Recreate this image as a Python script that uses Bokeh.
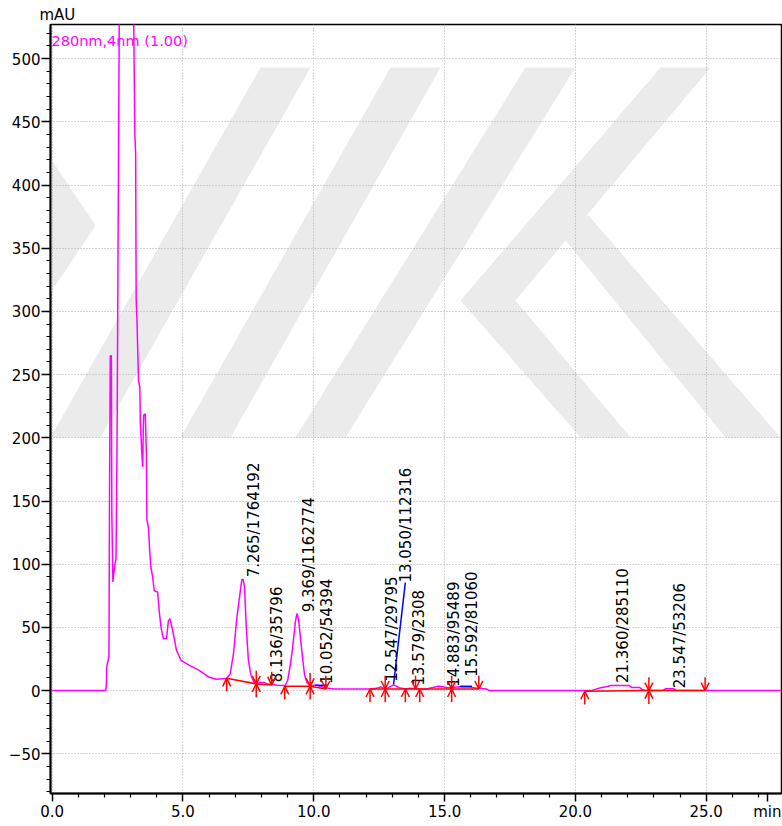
import numpy as np
from bokeh.plotting import figure
from bokeh.models import (ColumnDataSource, Range1d, SingleIntervalTicker, FixedTicker,
                          NumeralTickFormatter, Label, Arrow, OpenHead, PolyAnnotation, Title)
from bokeh.core.properties import value
from bokeh.embed import file_html
from bokeh.resources import INLINE

# ---- chromatogram trace (280nm, 4nm) ----
time_min = [0.0, 2.05, 2.07, 2.09, 2.13, 2.17, 2.19, 2.22, 2.26, 2.28, 2.32, 2.35, 2.40, 2.44,
            2.48, 2.53, 2.58, 2.75, 2.95, 3.08, 3.12, 3.16, 3.19, 3.21, 3.24, 3.30, 3.35, 3.37,
            3.42, 3.46, 3.48, 3.50, 3.56, 3.60, 3.62, 3.68, 3.72, 3.77, 3.84, 3.90, 4.03, 4.09,
            4.16, 4.25, 4.37, 4.44, 4.50, 4.59, 4.66, 4.75, 4.92, 5.25, 5.62, 6.00, 6.26, 6.65,
            6.80, 6.93, 7.06, 7.18, 7.25, 7.30, 7.35, 7.42, 7.50, 7.60, 7.72, 7.85, 7.95, 8.10,
            8.20, 8.40, 8.60, 8.90, 9.00, 9.10, 9.18, 9.30, 9.36, 9.42, 9.50, 9.57, 9.65, 9.75,
            9.85, 10.00, 10.10, 10.30, 10.50, 10.80, 12.20, 12.45, 12.55, 12.65, 12.80, 12.95,
            13.05, 13.15, 13.30, 13.50, 13.70, 13.90, 14.30, 14.55, 14.75, 14.90, 15.10, 15.30,
            15.55, 15.90, 16.20, 16.60, 16.70, 20.60, 20.75, 21.00, 21.20, 21.35, 22.05, 22.15,
            22.45, 22.55, 22.70, 23.35, 23.45, 23.75, 23.85, 27.88]
signal_mau = [0.0, 0.0, 5.0, 20.0, 23.0, 28.0, 150.0, 265.0, 265.0, 140.0, 86.0, 92.0, 100.0, 104.0,
              200.0, 400.0, 600.0, 900.0, 850.0, 600.0, 520.0, 440.0, 425.0, 310.0, 293.0, 245.0, 240.0, 212.0,
              190.0, 177.0, 205.0, 218.0, 219.0, 188.0, 135.0, 129.0, 113.0, 98.0, 90.0, 79.0, 78.0, 63.0,
              50.0, 41.0, 41.0, 55.0, 57.0, 49.0, 42.0, 32.0, 24.0, 20.0, 16.0, 10.5, 9.0, 9.5,
              13.0, 29.0, 58.0, 77.0, 88.0, 88.0, 82.0, 50.0, 24.0, 12.0, 6.5, 5.5, 6.5, 6.5,
              5.5, 5.0, 4.2, 4.0, 8.0, 20.0, 32.0, 55.0, 61.0, 56.0, 40.0, 26.0, 12.0, 6.0,
              4.0, 4.2, 4.5, 3.0, 2.0, 1.3, 1.3, 2.0, 3.0, 2.0, 1.5, 3.5,
              4.5, 3.5, 2.0, 1.3, 1.8, 1.5, 1.3, 2.5, 3.5, 3.2, 2.3, 2.5,
              3.0, 2.8, 2.0, 1.3, 0.0, 0.0, 1.0, 2.5, 3.0, 4.0, 4.0, 2.5,
              2.5, 1.0, 0.0, 0.0, 1.5, 1.5, 0.0, 0.0]

# ---- integrated peaks: retention time / area ----
peak_rt = [7.265, 8.136, 9.369, 10.052, 12.547, 13.050, 13.579, 14.883, 15.592, 21.360, 23.547]
peak_area = [1764192, 35796, 1162774, 54394, 29795, 112316, 2308, 95489, 81060, 285110, 53206]
label_y = [89.6, 6.6, 62.0, 5.3, 7.0, 85.5, 4.0, 3.0, 11.0, 6.0, 1.8]

# peak start (up arrows) and peak end (down arrows)
start_t = [6.67, 7.80, 8.89, 9.86, 12.15, 12.73, 13.50, 14.05, 15.27, 20.36, 22.81]
start_y = [9.7, 5.3, 3.4, 3.4, 1.3, 1.3, 1.3, 1.3, 1.3, -0.5, 0.0]
end_t = [7.80, 8.39, 9.86, 10.46, 12.73, 13.89, 15.27, 16.31, 22.81, 24.96]
end_y = [5.3, 4.5, 3.4, 1.3, 1.3, 1.3, 1.3, 1.3, 0.0, 0.0]

# integration baselines (red)
baseline_t = [6.67, 7.80, 8.39, np.nan, 8.89, 9.86, 10.46, np.nan,
              12.15, 12.73, 13.50, 13.89, 14.05, 15.27, 16.31, np.nan, 20.36, 22.81, 24.96]
baseline_y = [9.7, 5.3, 4.5, np.nan, 3.4, 3.4, 1.3, np.nan,
              1.3, 1.3, 1.3, 1.3, 1.3, 1.3, 1.3, np.nan, -0.5, 0.0, 0.0]

# label leader lines (blue)
leader_x0 = [10.052, 13.050, 15.592]
leader_y0 = [4.2, 5.0, 3.4]
leader_x1 = [10.51, 13.50, 16.05]
leader_y1 = [4.2, 85.5, 3.4]

# axis ticks
x_major = [0, 5, 10, 15, 20, 25]
x_minor = [v for v in range(0, 28) if v % 5 != 0]
x_unit_pos = 27.34
x_unit_text = "min"

FONT = "DejaVu Sans"

p = figure(width=782, height=824, x_range=Range1d(-0.065, 27.88), y_range=Range1d(-81.4, 527.0),
           output_backend="svg", toolbar_location=None, title=None,
           min_border_left=50, min_border_right=1, min_border_top=24, min_border_bottom=31)

p.background_fill_color = "white"
p.border_fill_color = "white"
p.outline_line_color = "black"
p.outline_line_width = 1.5

# watermark (light grey, behind everything)
wm_shapes = [
    [(0, 83), (95, 225), (0, 367), (0, 300), (50, 225), (0, 150)],
    [(260, 67), (310, 67), (100, 437), (50, 437)],
    [(390, 67), (440, 67), (230, 437), (180, 437)],
    [(525, 67), (575, 67), (345, 437), (295, 437)],
    [(660, 67), (710, 67), (515, 300), (630, 437), (580, 437), (460, 300)],
    [(545, 215), (588, 215), (780, 437), (725, 437)],
]
for shp in wm_shapes:
    p.add_layout(PolyAnnotation(xs=[a for a, b in shp], ys=[b for a, b in shp],
                                xs_units="canvas", ys_units="canvas",
                                fill_color="#ebebeb", fill_alpha=1.0, line_color=None,
                                level="image"))

# axes
for ax in (p.xaxis[0], p.yaxis[0]):
    ax.axis_line_color = "black"
    ax.axis_line_width = 2
    ax.major_tick_line_color = "black"
    ax.minor_tick_line_color = "black"
    ax.major_tick_line_width = 1.5
    ax.minor_tick_line_width = 1.2
    ax.major_tick_in = 0
    ax.minor_tick_in = 0
    ax.major_label_text_font = FONT
    ax.major_label_text_font_size = "15px"
    ax.major_label_text_color = "black"

p.xaxis.ticker = FixedTicker(ticks=x_major + [x_unit_pos], minor_ticks=x_minor)
p.xaxis.formatter = NumeralTickFormatter(format="0.0")
p.xaxis.major_label_overrides = {x_unit_pos: x_unit_text}
p.xaxis.major_tick_out = 8
p.xaxis.minor_tick_out = 4
p.xaxis.major_label_standoff = 1

p.yaxis.ticker = SingleIntervalTicker(interval=50, num_minor_ticks=5)
p.yaxis.major_tick_out = 9
p.yaxis.minor_tick_out = 4
p.yaxis.major_label_standoff = 1

p.xgrid[0].ticker = SingleIntervalTicker(interval=5)
p.grid.grid_line_color = "#a8a8a8"
p.grid.grid_line_dash = "1 2"
p.grid.grid_line_width = 1

# trace
p.line(time_min, signal_mau, line_color="#ff00ff", line_width=1.5)

# baselines
p.line(baseline_t, baseline_y, line_color="red", line_width=1.5)

# leaders
p.segment(x0=leader_x0, y0=leader_y0, x1=leader_x1, y1=leader_y1, line_color="blue", line_width=1.5)

# arrows
arrow_len = 10.5
up_src = ColumnDataSource(dict(t=start_t, y=start_y, y0=[v - arrow_len for v in start_y]))
dn_src = ColumnDataSource(dict(t=end_t, y=end_y, y0=[v + arrow_len for v in end_y]))
for src in (up_src, dn_src):
    p.add_layout(Arrow(end=OpenHead(size=8, line_color="red", line_width=1.5),
                       x_start="t", y_start="y0", x_end="t", y_end="y", source=src,
                       line_color="red", line_width=1.5))

# peak labels
labels = [f"{rt:.3f}/{a}" for rt, a in zip(peak_rt, peak_area)]
p.text(x=peak_rt, y=label_y, text=labels, angle=np.pi / 2, x_offset=12,
       text_align="left", text_baseline="middle", text_font=value(FONT),
       text_font_size="15px", text_color="black")

# texts
p.add_layout(Title(text="mAU", align="left", offset=-11, standoff=1,
                   text_font=FONT, text_font_size="15px", text_font_style="normal",
                   text_color="black"), "above")
p.add_layout(Label(x=51, y=40, x_units="canvas", y_units="canvas", text="280nm,4nm (1.00)",
                   text_font=FONT, text_font_size="14.5px", text_color="#ff00ff",
                   text_baseline="alphabetic"))

open("out.html", "w").write(file_html(p, INLINE))
